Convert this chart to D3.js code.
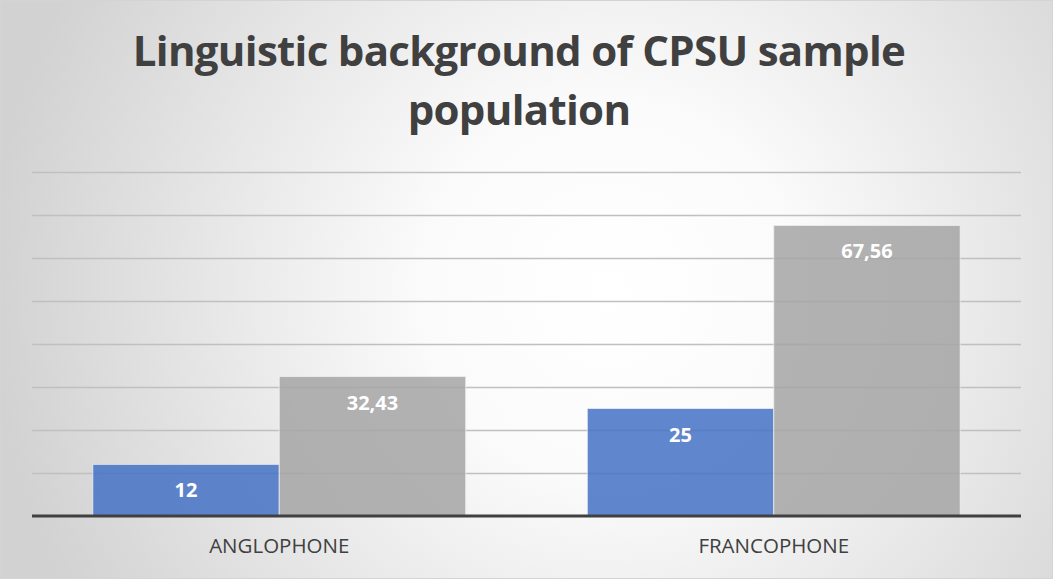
<!DOCTYPE html>
<html>
<head>
<meta charset="utf-8">
<script src="https://cdn.jsdelivr.net/npm/d3@7"></script>
<style>
  html, body { margin: 0; padding: 0; background: #fff; }
  svg { display: block; }
</style>
</head>
<body>
<svg id="chart" width="1053" height="579"></svg>
<script>
// Linguistic background of the CPSU sample: two series per language group
const categories = ["ANGLOPHONE", "FRANCOPHONE"];
const seriesNames = ["Series1", "Series2"];
const series1 = [12, 25];
const series2 = [32.43, 67.56];
const gridTicks = [10, 20, 30, 40, 50, 60, 70, 80];
const titleLines = ["Linguistic background of CPSU sample", "population"];

const W = 1053, H = 579;
const margin = { left: 32, right: 32, top: 172, bottom: 63 };

const svg = d3.select("#chart");
const defs = svg.append("defs");

// soft radial background
const bg = defs.append("radialGradient")
  .attr("id", "bgGrad")
  .attr("gradientUnits", "userSpaceOnUse")
  .attr("cx", 610).attr("cy", 290).attr("r", 620);
bg.append("stop").attr("offset", "0").attr("stop-color", "#ffffff");
bg.append("stop").attr("offset", "0.3").attr("stop-color", "#fbfbfb");
bg.append("stop").attr("offset", "1").attr("stop-color", "#d2d2d2");

svg.append("rect")
  .attr("x", 0.5).attr("y", 0.5)
  .attr("width", W - 1).attr("height", H - 1)
  .attr("fill", "url(#bgGrad)")
  .attr("stroke", "#d4d4d4").attr("stroke-width", 1);

const x0 = d3.scaleBand()
  .domain(categories)
  .range([margin.left, W - margin.right])
  .paddingInner(0.246).paddingOuter(0.123);

const x1 = d3.scaleBand()
  .domain(seriesNames)
  .range([0, x0.bandwidth()]);

const y = d3.scaleLinear()
  .domain([0, 80])
  .range([H - margin.bottom, margin.top]);

// horizontal gridlines
svg.append("g")
  .selectAll("line")
  .data(gridTicks)
  .join("line")
  .attr("x1", margin.left).attr("x2", W - margin.right)
  .attr("y1", d => Math.round(y(d)) + 0.5)
  .attr("y2", d => Math.round(y(d)) + 0.5)
  .attr("stroke", "#c0c0c0").attr("stroke-width", 1.4);

const colors = { Series1: "#4472C4", Series2: "#A5A5A5" };

const rows = categories.map((c, i) => ({
  category: c,
  values: [
    { key: "Series1", value: series1[i] },
    { key: "Series2", value: series2[i] }
  ]
}));

const groups = svg.append("g")
  .selectAll("g")
  .data(rows)
  .join("g")
  .attr("transform", d => `translate(${x0(d.category)},0)`);

groups.selectAll("rect")
  .data(d => d.values)
  .join("rect")
  .attr("x", d => x1(d.key))
  .attr("y", d => y(d.value))
  .attr("width", x1.bandwidth())
  .attr("height", d => y(0) - y(d.value))
  .attr("fill", d => colors[d.key])
  .attr("fill-opacity", 0.85)
  .attr("stroke", "#f2f2f2").attr("stroke-opacity", 0.7).attr("stroke-width", 1);

const fmt = v => String(v).replace(".", ",");

groups.selectAll("text")
  .data(d => d.values)
  .join("text")
  .attr("x", d => x1(d.key) + x1.bandwidth() / 2)
  .attr("y", d => y(d.value) + 26)
  .attr("dy", "0.35em")
  .attr("text-anchor", "middle")
  .attr("font-family", "'Open Sans', sans-serif")
  .attr("font-weight", "bold")
  .attr("font-size", 20)
  .attr("fill", "#ffffff")
  .text(d => fmt(d.value));

// baseline axis
svg.append("line")
  .attr("x1", margin.left).attr("x2", W - margin.right)
  .attr("y1", y(0)).attr("y2", y(0))
  .attr("stroke", "#404040").attr("stroke-width", 3);

// category labels
svg.append("g")
  .selectAll("text")
  .data(categories)
  .join("text")
  .attr("x", d => x0(d) + x0.bandwidth() / 2)
  .attr("y", 546)
  .attr("dy", "0.35em")
  .attr("text-anchor", "middle")
  .attr("font-family", "'Open Sans', sans-serif")
  .attr("font-size", 20.5)
  .attr("fill", "#404040")
  .text(d => d);

// title
svg.append("g")
  .selectAll("text")
  .data(titleLines)
  .join("text")
  .attr("x", 519)
  .attr("y", (d, i) => 66 + i * 59)
  .attr("text-anchor", "middle")
  .attr("font-family", "'Open Sans', sans-serif")
  .attr("font-weight", "bold")
  .attr("font-size", 42)
  .attr("letter-spacing", -0.7)
  .attr("fill", "#404040")
  .text(d => d);
</script>
</body>
</html>
